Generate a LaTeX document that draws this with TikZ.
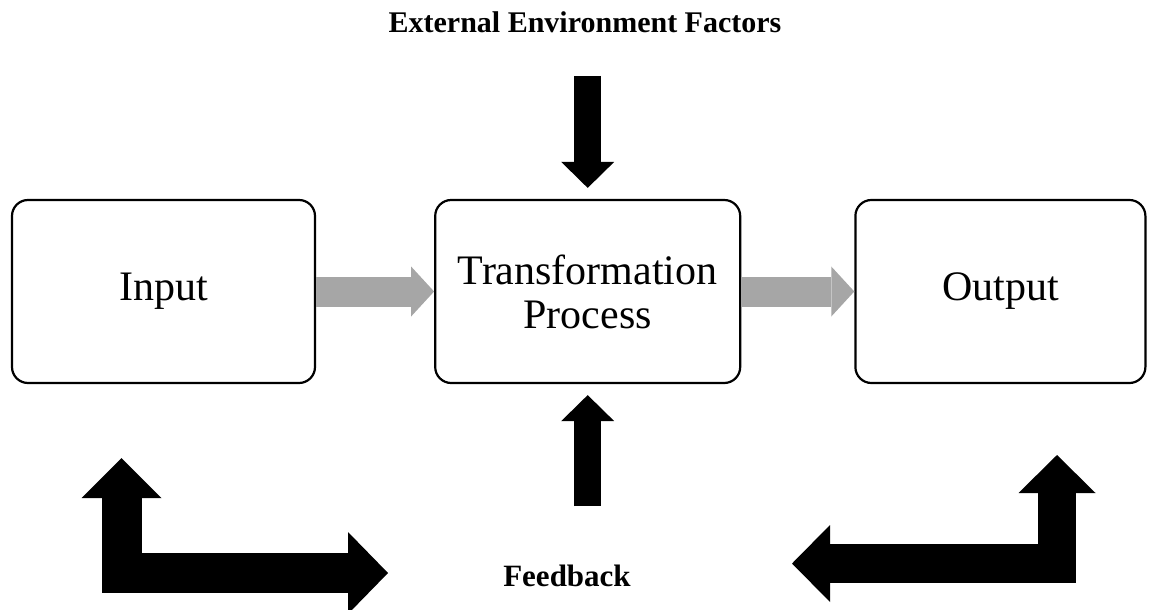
\documentclass[tikz,border=0pt]{standalone}
\usepackage{fontspec}
\setmainfont{Liberation Serif}
\usetikzlibrary{positioning,arrows.meta}
\tikzset{>=latex}
\definecolor{flowgray}{RGB}{166,166,166}
\tikzset{
  stage/.style={draw=black, line width=2.2pt, rounded corners=16pt,
    minimum width=303pt, minimum height=183pt, align=center,
    font=\fontsize{42}{44}\selectfont},
  flow/.style={draw=flowgray, line width=30pt,
    -{Triangle[width=50pt,length=23pt,line width=0pt]}},
  push/.style={draw=black, line width=27pt, shorten >=11pt,
    -{Triangle[width=53pt,length=26pt,line width=0pt]}},
  loopl/.style={draw=black, line width=40pt, line join=miter,
    {Triangle[width=80pt,length=40pt,line width=0pt]}-{Triangle[width=82pt,length=40pt,line width=0pt]}},
  loopr/.style={draw=black, line width=38.5pt, line join=miter,
    {Triangle[width=77pt,length=38pt,line width=0pt]}-{Triangle[width=77pt,length=38pt,line width=0pt]}},
  caption/.style={anchor=base, font=\fontsize{30}{32}\selectfont\bfseries}
}

\begin{document}
\begin{tikzpicture}[x=1pt, y=-1pt]
  \useasboundingbox (0,0) rectangle (1151,610);

  \node[stage] (in) at (163.5,291.5) {Input};
  \node[stage, right=118pt of in, minimum width=305pt] (tp) {Transformation\\Process};
  \node[stage, right=113pt of tp, minimum width=290pt] (out) {Output};

  \node[caption] (env) at (585,33) {External Environment Factors};
  \node[caption, font=\fontsize{31}{33}\selectfont\bfseries] (fb) at (567,586) {Feedback};

  \path[flow] (in.east) -- (tp.west);
  \path[flow] (tp.east) -- (out.west);

  \coordinate (envsrc) at ([yshift=123pt]tp.north);
  \coordinate (fbsrc) at ([yshift=-122pt]tp.south);
  \path[push] (envsrc) -- (tp.north);
  \path[push] (fbsrc) -- (tp.south);

  % feedback loops under the boxes
  \coordinate (fbl1) at (121.5,458);
  \coordinate (fbl2) at (388,573);
  \coordinate (fbr1) at (792,563.5);
  \coordinate (fbr2) at (1057,455);
  \path[loopl] (fbl1) |- (fbl2);
  \path[loopr] (fbr1) -| (fbr2);
\end{tikzpicture}
\end{document}
